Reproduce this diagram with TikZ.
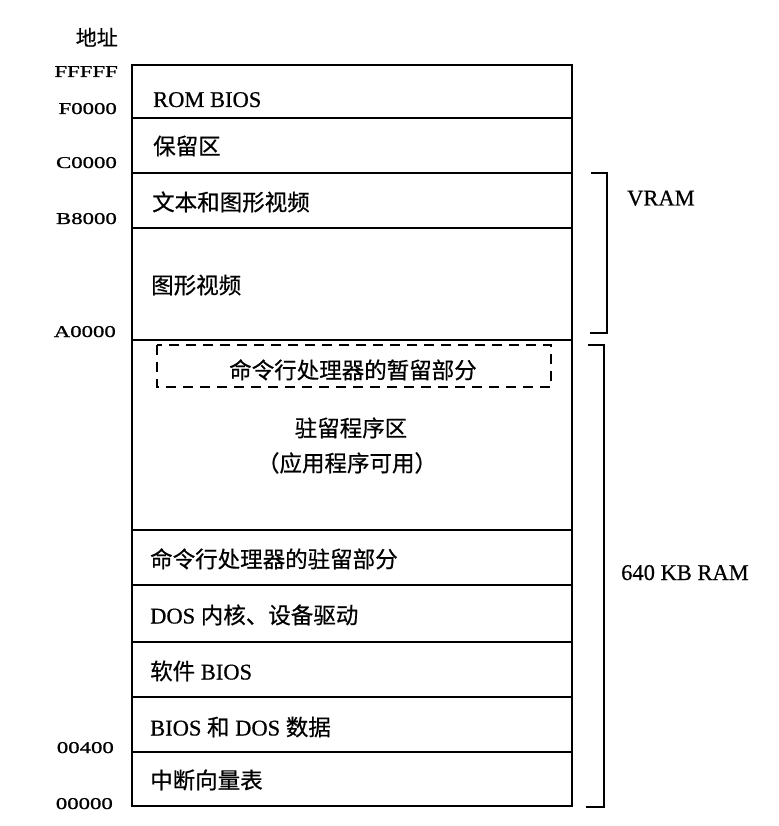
\documentclass[tikz,border=0pt]{standalone}
\usepackage{fontspec}
\setmainfont[FakeBold=0.6]{Liberation Serif}
\newfontfamily\cjk[FakeBold=0.6]{Noto Sans CJK SC}
\newfontfamily\addrfont[FakeStretch=1.38,FakeBold=1]{Liberation Serif}
\newcommand{\zh}[1]{{\cjk #1}}

\tikzset{
  memline/.style={line width=1.1pt},
  region/.style={inner sep=0pt, font=\fontsize{22.5}{26}\selectfont},
  celltext/.style={region, anchor=base west},
  midtext/.style={region, anchor=base},
  addrlabel/.style={inner sep=0pt, anchor=base east, font=\addrfont\fontsize{16.5}{20}\selectfont},
  bracket/.style={line width=1.1pt},
  tempbox/.style={line width=1.1pt, dash pattern=on 10pt off 7pt}
}

\begin{document}
\begin{tikzpicture}[x=1pt,y=-1pt]
  \useasboundingbox (0,0) rectangle (778,826);

  % boundaries of the memory map, top to bottom
  \coordinate (L0) at (132,65);   \coordinate (R0) at (572,65);
  \coordinate (L1) at (132,118);  \coordinate (R1) at (572,118);
  \coordinate (L2) at (132,173);  \coordinate (R2) at (572,173);
  \coordinate (L3) at (132,228);  \coordinate (R3) at (572,228);
  \coordinate (L4) at (132,340);  \coordinate (R4) at (572,340);
  \coordinate (L5) at (132,530);  \coordinate (R5) at (572,530);
  \coordinate (L6) at (132,585);  \coordinate (R6) at (572,585);
  \coordinate (L7) at (132,642);  \coordinate (R7) at (572,642);
  \coordinate (L8) at (132,697);  \coordinate (R8) at (572,697);
  \coordinate (L9) at (132,752);  \coordinate (R9) at (572,752);
  \coordinate (L10) at (132,806); \coordinate (R10) at (572,806);

  % outer frame and dividers
  \draw[memline] (L0) rectangle (R10);
  \foreach \i in {1,...,9} \draw[memline] (L\i) -- (R\i);

  % transient part of the command processor
  \draw[tempbox] (157,345) rectangle (551,387);

  % address column
  \node[inner sep=0pt, anchor=base east, font=\cjk\fontsize{21}{24}\selectfont] (head) at (118,45.5) {地址};
  \node[addrlabel] (aFFFFF) at (118,77) {FFFFF};
  \node[addrlabel] (aF0000) at (117,114) {F0000};
  \node[addrlabel] (aC0000) at (117,168) {C0000};
  \node[addrlabel] (aB8000) at (117,224) {B8000};
  \node[addrlabel] (aA0000) at (116,337) {A0000};
  \node[addrlabel] (a00400) at (114,753) {00400};
  \node[addrlabel] (a00000) at (113,809) {00000};

  % region contents
  \node[celltext] (rom)  at (153,107)   {ROM BIOS};
  \node[celltext] (res)  at (153,154.5) {\zh{保留区}};
  \node[celltext] (txt)  at (152,210.5) {\zh{文本和图形视频}};
  \node[celltext] (gfx)  at (151,293.5) {\zh{图形视频}};
  \node[midtext]  (tmp)  at (353,378.5) {\zh{命令行处理器的暂留部分}};
  \node[midtext]  (tsr)  at (351,436.5) {\zh{驻留程序区}};
  \node[midtext]  (app)  at (347,471.5) {\zh{（应用程序可用）}};
  \node[celltext] (cmd)  at (150,567.5) {\zh{命令行处理器的驻留部分}};
  \node[celltext] (dos)  at (150,623.5) {DOS \zh{内核、设备驱动}};
  \node[celltext] (sbios) at (150,679.5) {\zh{软件} BIOS};
  \node[celltext] (data) at (150,735.5) {BIOS \zh{和} DOS \zh{数据}};
  \node[celltext] (ivt)  at (150,788.5) {\zh{中断向量表}};

  % brackets on the right
  \coordinate (v1) at (591,173); \coordinate (v2) at (607,173);
  \coordinate (v3) at (607,333); \coordinate (v4) at (590,333);
  \draw[bracket] (v1) -- (v2) -- (v3) -- (v4);
  \node[region, anchor=base west] (vram) at (627,205.5) {VRAM};

  \coordinate (m1) at (588,345); \coordinate (m2) at (604,345);
  \coordinate (m3) at (604,807); \coordinate (m4) at (586,807);
  \draw[bracket] (m1) -- (m2) -- (m3) -- (m4);
  \node[region, anchor=base west] (ram) at (621,580) {640 KB RAM};
\end{tikzpicture}
\end{document}
